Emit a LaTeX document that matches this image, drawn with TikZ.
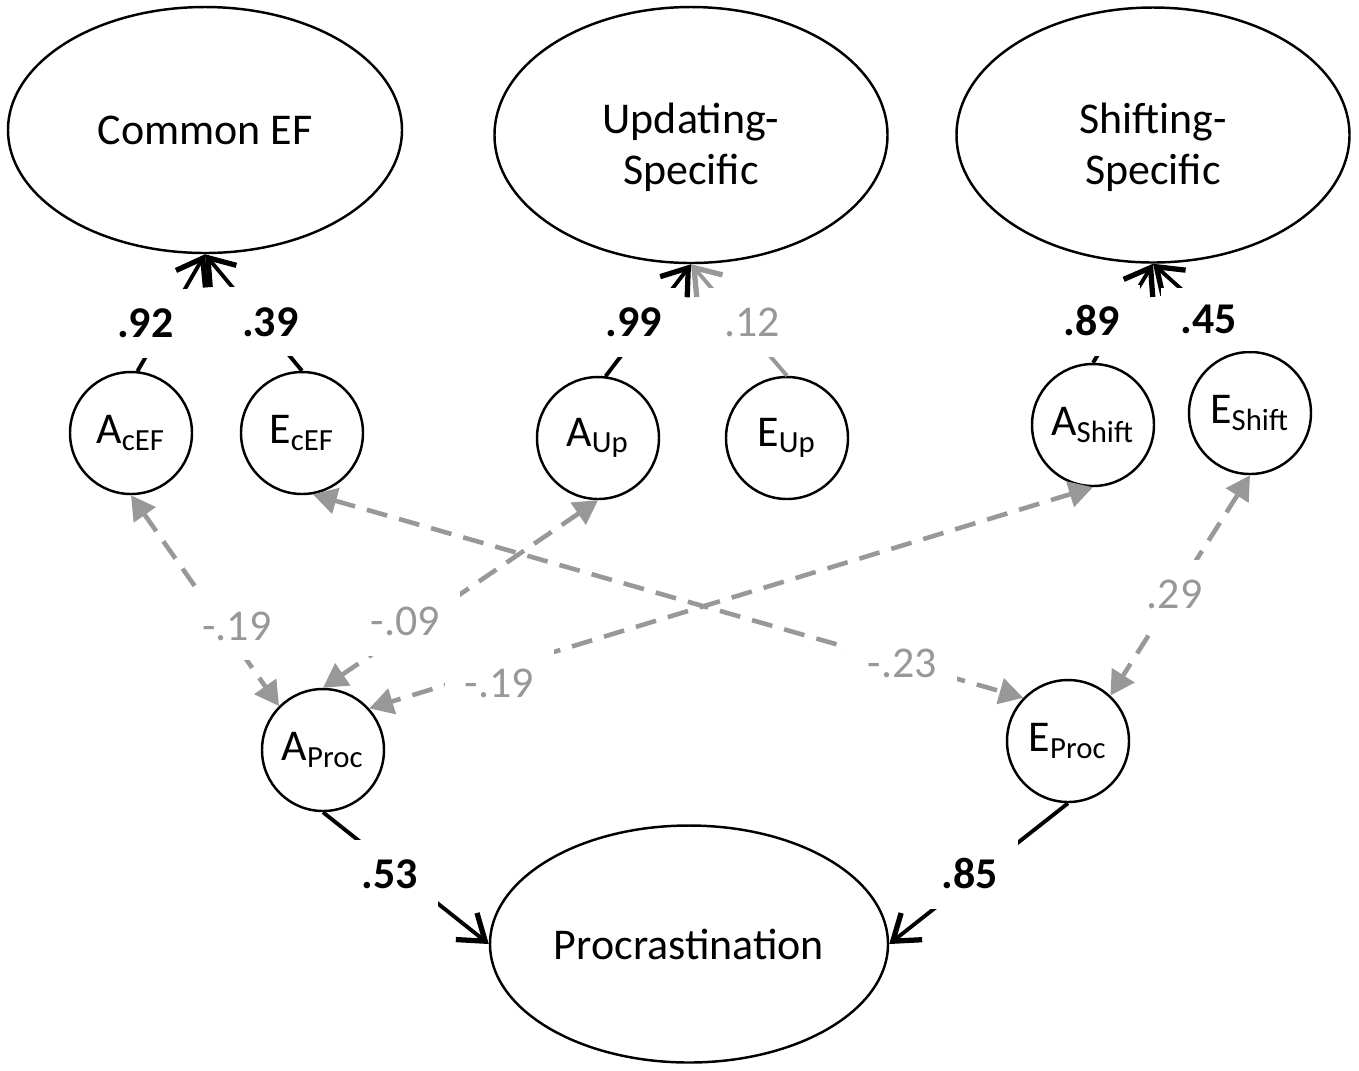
\documentclass[tikz,border=0pt]{standalone}
\usepackage{fontspec}
\setmainfont{Carlito}
\usetikzlibrary{arrows.meta,shapes.geometric}
\definecolor{pathgray}{RGB}{152,152,152}
\newcommand{\figfont}{\fontsize{12.5pt}{14.5pt}\selectfont}

\begin{document}
\begin{tikzpicture}[
	every node/.style={font=\figfont},
	latent/.style={draw, ellipse, line width=0.7pt, align=center, inner sep=0pt},
	factor/.style={draw, circle, line width=0.7pt, minimum size=1.22cm, inner sep=0pt},
	load/.style={line width=1.1pt, -{Straight Barb[length=2.4mm,width=3.4mm,line width=1.5pt]}},
	corr/.style={pathgray, line width=1.3pt, dash pattern=on 6pt off 3.5pt,
		{Triangle[length=2.4mm,width=2.6mm]}-{Triangle[length=2.4mm,width=2.6mm]}},
	coef/.style={fill=white, inner sep=2mm, font=\figfont\bfseries},
	gcoef/.style={fill=white, inner sep=2mm, text=pathgray}
]
			\useasboundingbox (0,0) rectangle (13.59,-10.70);
			% latent traits
			\node[latent, minimum width=3.94cm, minimum height=2.46cm] (cef) at (2.05,-1.30) {Common EF};
			\node[latent, minimum width=3.93cm, minimum height=2.56cm] (upd) at (6.91,-1.35) {\rule{0pt}{5.5mm}Updating-\\Specific};
			\node[latent, minimum width=3.93cm, minimum height=2.55cm] (shf) at (11.53,-1.35) {\rule{0pt}{5.5mm}Shifting-\\Specific};
			\node[latent, minimum width=3.98cm, minimum height=2.37cm] (proc) at (6.89,-9.44) {Procrastination};
			% genetic and environmental factors
			\node[factor] (acef) at (1.31,-4.33) {A\textsubscript{cEF}};
			\node[factor] (ecef) at (3.02,-4.33) {E\textsubscript{cEF}};
			\node[factor] (aup) at (5.98,-4.38) {A\textsubscript{Up}};
			\node[factor] (eup) at (7.87,-4.38) {E\textsubscript{Up}};
			\node[factor] (ashift) at (10.93,-4.25) {A\textsubscript{Shift}};
			\node[factor] (eshift) at (12.50,-4.13) {E\textsubscript{Shift}};
			\node[factor] (aproc) at (3.23,-7.50) {A\textsubscript{Proc}};
			\node[factor] (eproc) at (10.68,-7.41) {E\textsubscript{Proc}};
			% loadings
			\draw[load] (acef.84) -- (cef.south) node[coef, pos=0.41, xshift=-2mm] {.92};
			\draw[load] (ecef.north) -- (cef.south) node[coef, pos=0.42, xshift=0.9mm] {.39};
			\draw[load] (aup.83) -- (upd.south) node[coef, pos=0.48, xshift=-1.3mm] {.99};
			\draw[load, pathgray] (eup.north) -- (upd.south) node[gcoef, pos=0.48, xshift=1.1mm] {.12};
			\draw[load] (ashift.north) -- (shf.south) node[coef, pos=0.43, xshift=-2.7mm] {.89};
			\draw[load] (eshift.north) -- (shf.south) node[coef, pos=0.36, xshift=-0.6mm, inner ysep=1.75mm] {.45};
			\draw[load] (aproc.south) -- (proc.west) node[coef, pos=0.47, xshift=-1.1mm] {.53};
			\draw[load] (eproc.south) -- (proc.east) node[coef, pos=0.5, xshift=-0.9mm] {.85};
			% cross-trait correlations
			\draw[corr] (acef.south) -- (aproc.135) node[gcoef, pos=0.62, xshift=1.4mm] {-.19};
			\draw[corr] (ecef.-80) -- (eproc.136) node[gcoef, pos=0.83] {-.23};
			\draw[corr] (aup.south) -- (aproc.north) node[gcoef, pos=0.7, yshift=1mm] {-.09};
			\draw[corr] (ashift.south) -- (aproc.42) node[gcoef, pos=0.82, yshift=-1.5mm] {-.19};
			\draw[corr] (eshift.south) -- (eproc.47) node[gcoef, pos=0.54] {.29};
		\end{tikzpicture}
\end{document}
